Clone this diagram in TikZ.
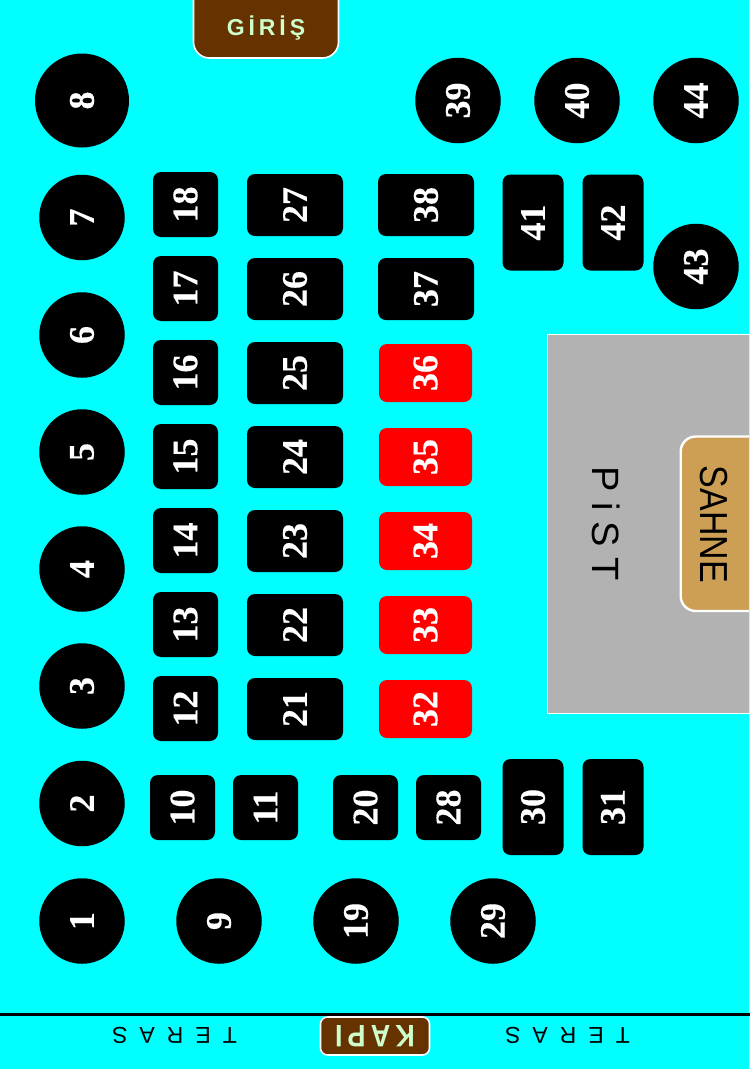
\documentclass[tikz,border=0pt]{standalone}
\usepackage{fontspec}
\usepackage{graphicx}
\setmainfont[BoldFeatures={FakeBold=0.35}]{Liberation Serif}
\setsansfont{Liberation Sans}
\newfontfamily\spacedA[LetterSpace=17]{Liberation Sans}
\newfontfamily\spacedK[LetterSpace=19]{Liberation Sans}
\newfontfamily\spacedC[LetterSpace=52]{Liberation Sans}
\definecolor{bg}{HTML}{00FFFF}
\definecolor{brownbox}{HTML}{663300}
\definecolor{cream}{HTML}{CCFFCC}
\definecolor{pist}{HTML}{B2B2B2}
\definecolor{stage}{HTML}{CC9F55}
\tikzset{
  x=1pt,y=-1pt,
  seatnum/.style={text=white,font=\bfseries\fontsize{36}{36}\selectfont,rotate=90,inner sep=0pt,anchor=center},
  roundseat/.style={seatnum,circle,fill=black,minimum size=85.5pt},
  bigseat/.style={roundseat,minimum size=94pt},
  blockseat/.style={seatnum,rectangle,fill=black,rounded corners=8pt},
  sqseat/.style={blockseat,minimum width=65pt,minimum height=65pt},
  wideseat/.style={blockseat,minimum width=62pt,minimum height=96pt},
  tallseat/.style={blockseat,minimum width=96pt,minimum height=61pt},
  redseat/.style={blockseat,fill=red,minimum width=58pt,minimum height=93pt},
  caption/.style={font=\sffamily,text=black,inner sep=0pt},
  sign/.style={draw=white,line width=1.6pt,fill=brownbox,text=cream,font=\sffamily\bfseries,inner sep=0pt},
}
\begin{document}
\begin{tikzpicture}
\useasboundingbox (0,0) rectangle (750,1069);
\fill[bg] (0,0) rectangle (750,1069);
% circles
\node[bigseat] (t8) at (82,100.5) {8};
\foreach \n/\px/\py in {7/82/217.5,6/82/335,5/82/452,4/82/569,3/82/686,2/82/803.5,1/82/921,9/219/921,19/356/921,29/493/921,39/458/100.5,40/577/100.5,44/696/100.5,43/696/266.5}
  \node[roundseat] (t\n) at (\px,\py) {\n};
% square seats
\foreach \n/\px/\py in {18/185.5/204.5,17/185.5/288.5,16/185.5/372.5,15/185.5/456.5,14/185.5/540.5,13/185.5/624.5,12/185.5/708.5,10/182.5/807.5,11/265.5/807.5,20/365.5/807.5,28/448.5/807.5}
  \node[sqseat] (t\n) at (\px,\py) {\n};
% wide seats
\foreach \n/\px/\py in {27/295/205,26/295/289,25/295/373,24/295/457,23/295/541,22/295/625,21/295/709,38/426/205,37/426/289}
  \node[wideseat] (t\n) at (\px,\py) {\n};
% tall seats
\foreach \n/\px/\py in {41/533/222.5,42/613/222.5,30/533/807,31/613/807}
  \node[tallseat] (t\n) at (\px,\py) {\n};
% red seats
\foreach \n/\px/\py in {36/425.5/373,35/425.5/457,34/425.5/541,33/425.5/625,32/425.5/709}
  \node[redseat] (t\n) at (\px,\py) {\n};
% dance floor
\node[rectangle,draw=white,line width=0.6pt,fill=pist,minimum width=203pt,minimum height=379pt,inner sep=0pt] (floor) at (649,523.5) {};
\node[caption,rotate=-90,font=\sffamily\fontsize{38}{38}\selectfont] (pistlabel) at (606,524) {P i S T};
% stage
\draw[white,line width=2.4pt,fill=stage,rounded corners=15pt] (780,436.5) -- (680.7,436.5) -- (680.7,611) -- (780,611) -- cycle;
\node[caption,rotate=-90,font=\sffamily\fontsize{34}{34}\selectfont] (sahne) at (714,524.5) {\scalebox{1}[1.15]{SAHNE}};
% frame edge on the right
\fill[white!80!gray] (749,0) rectangle (750,1069);
% entrance
\draw[sign,rounded corners=16pt] (193.5,-20) -- (193.5,58) -- (338.5,58) -- (338.5,-20) -- cycle;
\node[caption,text=cream,font=\spacedA\bfseries\fontsize{23}{23}\selectfont] (giris) at (266,28.5) {GİRİŞ};
% terrace
\draw[black,line width=3pt] (0,1014) -- (750,1014);
\node[sign,rounded corners=7pt,minimum width=109pt,minimum height=38pt,rotate=180,font=\spacedK\bfseries\fontsize{27}{27}\selectfont] (kapi) at (375,1036) {\scalebox{1}[1.15]{KAPI}};
\node[caption,rotate=180,font=\spacedC\fontsize{23}{23}\selectfont] (teras1) at (174.5,1035) {TERAS};
\node[caption,rotate=180,font=\spacedC\fontsize{23}{23}\selectfont] (teras2) at (567.5,1035) {TERAS};
\end{tikzpicture}
\end{document}
